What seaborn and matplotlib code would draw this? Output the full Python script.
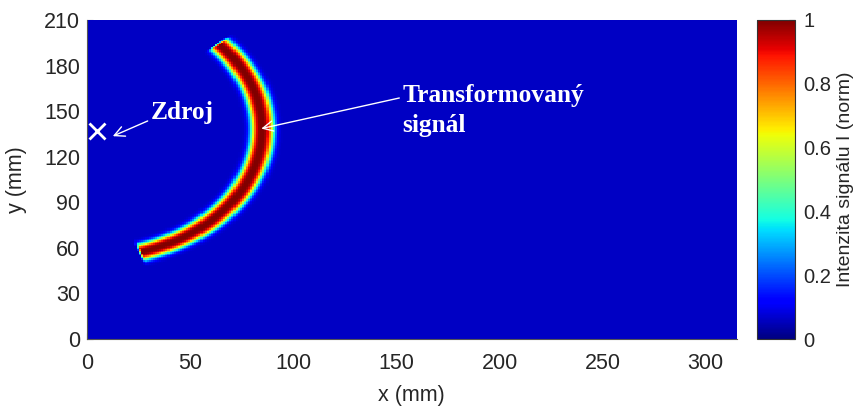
import numpy as np
import pandas as pd
import matplotlib
matplotlib.use("Agg")
import matplotlib.pyplot as plt
import seaborn as sns

# scene values (mm)
x_max = 315
y_max = 210
src_x, src_y = 5, 137          # source marker "Zdroj"
arc_cx, arc_cy = 0, 138        # centre of the transformed wavefront
arc_radius = 85
arc_angles = (-73, 42)         # angular extent of the arc (deg)
band_half_width = 5.5          # half width of the red band (mm)
background_level = 0.06

x_ticks = [0, 50, 100, 150, 200, 250, 300]
y_ticks = [0, 30, 60, 90, 120, 150, 180, 210]
cbar_ticks = [0, 0.2, 0.4, 0.6, 0.8, 1]

# build the intensity map on a 1 mm grid
xc = np.arange(x_max) + 0.5
yc = np.arange(y_max) + 0.5
X, Y = np.meshgrid(xc, yc)
r = np.hypot(X - arc_cx, Y - arc_cy)
ang = np.degrees(np.arctan2(Y - arc_cy, X - arc_cx))
profile = np.exp(-(np.abs(r - arc_radius) / band_half_width) ** 3)
inside = np.clip((ang - arc_angles[0]) / 1.0, 0, 1) * np.clip((arc_angles[1] - ang) / 1.0, 0, 1)
field = background_level + (1 - background_level) * profile * inside
field_df = pd.DataFrame(field, index=yc, columns=xc)

sns.set_theme(style="ticks")
plt.rcParams['font.family'] = ['Liberation Sans', 'DejaVu Sans']
text_col = '#262626'

fig = plt.figure(figsize=(8.64, 4.07), dpi=100)
ax = fig.add_axes([0.1007, 0.167, 0.752, 0.784])
cax = fig.add_axes([0.876, 0.167, 0.044, 0.784])

sns.heatmap(field_df, ax=ax, cbar_ax=cax, cmap='jet', vmin=0, vmax=1,
            xticklabels=False, yticklabels=False, rasterized=True,
            cbar_kws={'ticks': cbar_ticks})

ax.set_xlim(0, x_max)
ax.set_ylim(0, y_max)
ax.set_xticks(x_ticks)
ax.set_xticklabels([str(t) for t in x_ticks])
ax.set_yticks(y_ticks)
ax.set_yticklabels([str(t) for t in y_ticks])
ax.tick_params(direction='in', length=4, width=0.8, color='#555555',
               labelsize=15.5, labelcolor=text_col)
ax.tick_params(axis='x', pad=10)
ax.tick_params(axis='y', pad=5)
for side in ['left', 'bottom']:
    ax.spines[side].set_visible(True)
    ax.spines[side].set_color('#555555')
    ax.spines[side].set_linewidth(0.8)
ax.set_xlabel('x (mm)', fontsize=15.5, color=text_col, labelpad=8)
ax.set_ylabel('y (mm)', fontsize=15.5, color=text_col, labelpad=12)

# source marker and annotations
ax.plot([src_x], [src_y], marker='x', color='white', markersize=11, mew=2)
serif = ['Liberation Serif', 'DejaVu Serif']
ax.annotate('Zdroj', xy=(12.5, 133.5), xytext=(31, 149), color='white',
            fontsize=18.3, fontweight='bold', family=serif, ha='left', va='center',
            arrowprops=dict(arrowstyle='->', color='white', lw=1, shrinkA=0, shrinkB=0,
                            relpos=(0, 0.2)))
ax.annotate('Transformovaný\nsignál', xy=(84.5, 138.5), xytext=(153, 150.5), color='white',
            fontsize=18.3, fontweight='bold', family=serif, ha='left', va='center',
            linespacing=1.35,
            arrowprops=dict(arrowstyle='->', color='white', lw=1, shrinkA=0, shrinkB=0,
                            relpos=(0, 0.75)))

# colorbar styling
cax.tick_params(direction='in', length=4, width=0.8, color='#333333',
                labelsize=14.5, labelcolor=text_col, pad=6)
cax.set_yticklabels(['0', '0.2', '0.4', '0.6', '0.8', '1'])
cbar = ax.collections[0].colorbar
cbar.outline.set_visible(True)
cbar.outline.set_edgecolor('#333333')
cbar.outline.set_linewidth(0.8)
cbar.set_label('Intenzita signálu I (norm)', fontsize=14, color=text_col, labelpad=4)

fig.savefig('out.png', dpi=100)
